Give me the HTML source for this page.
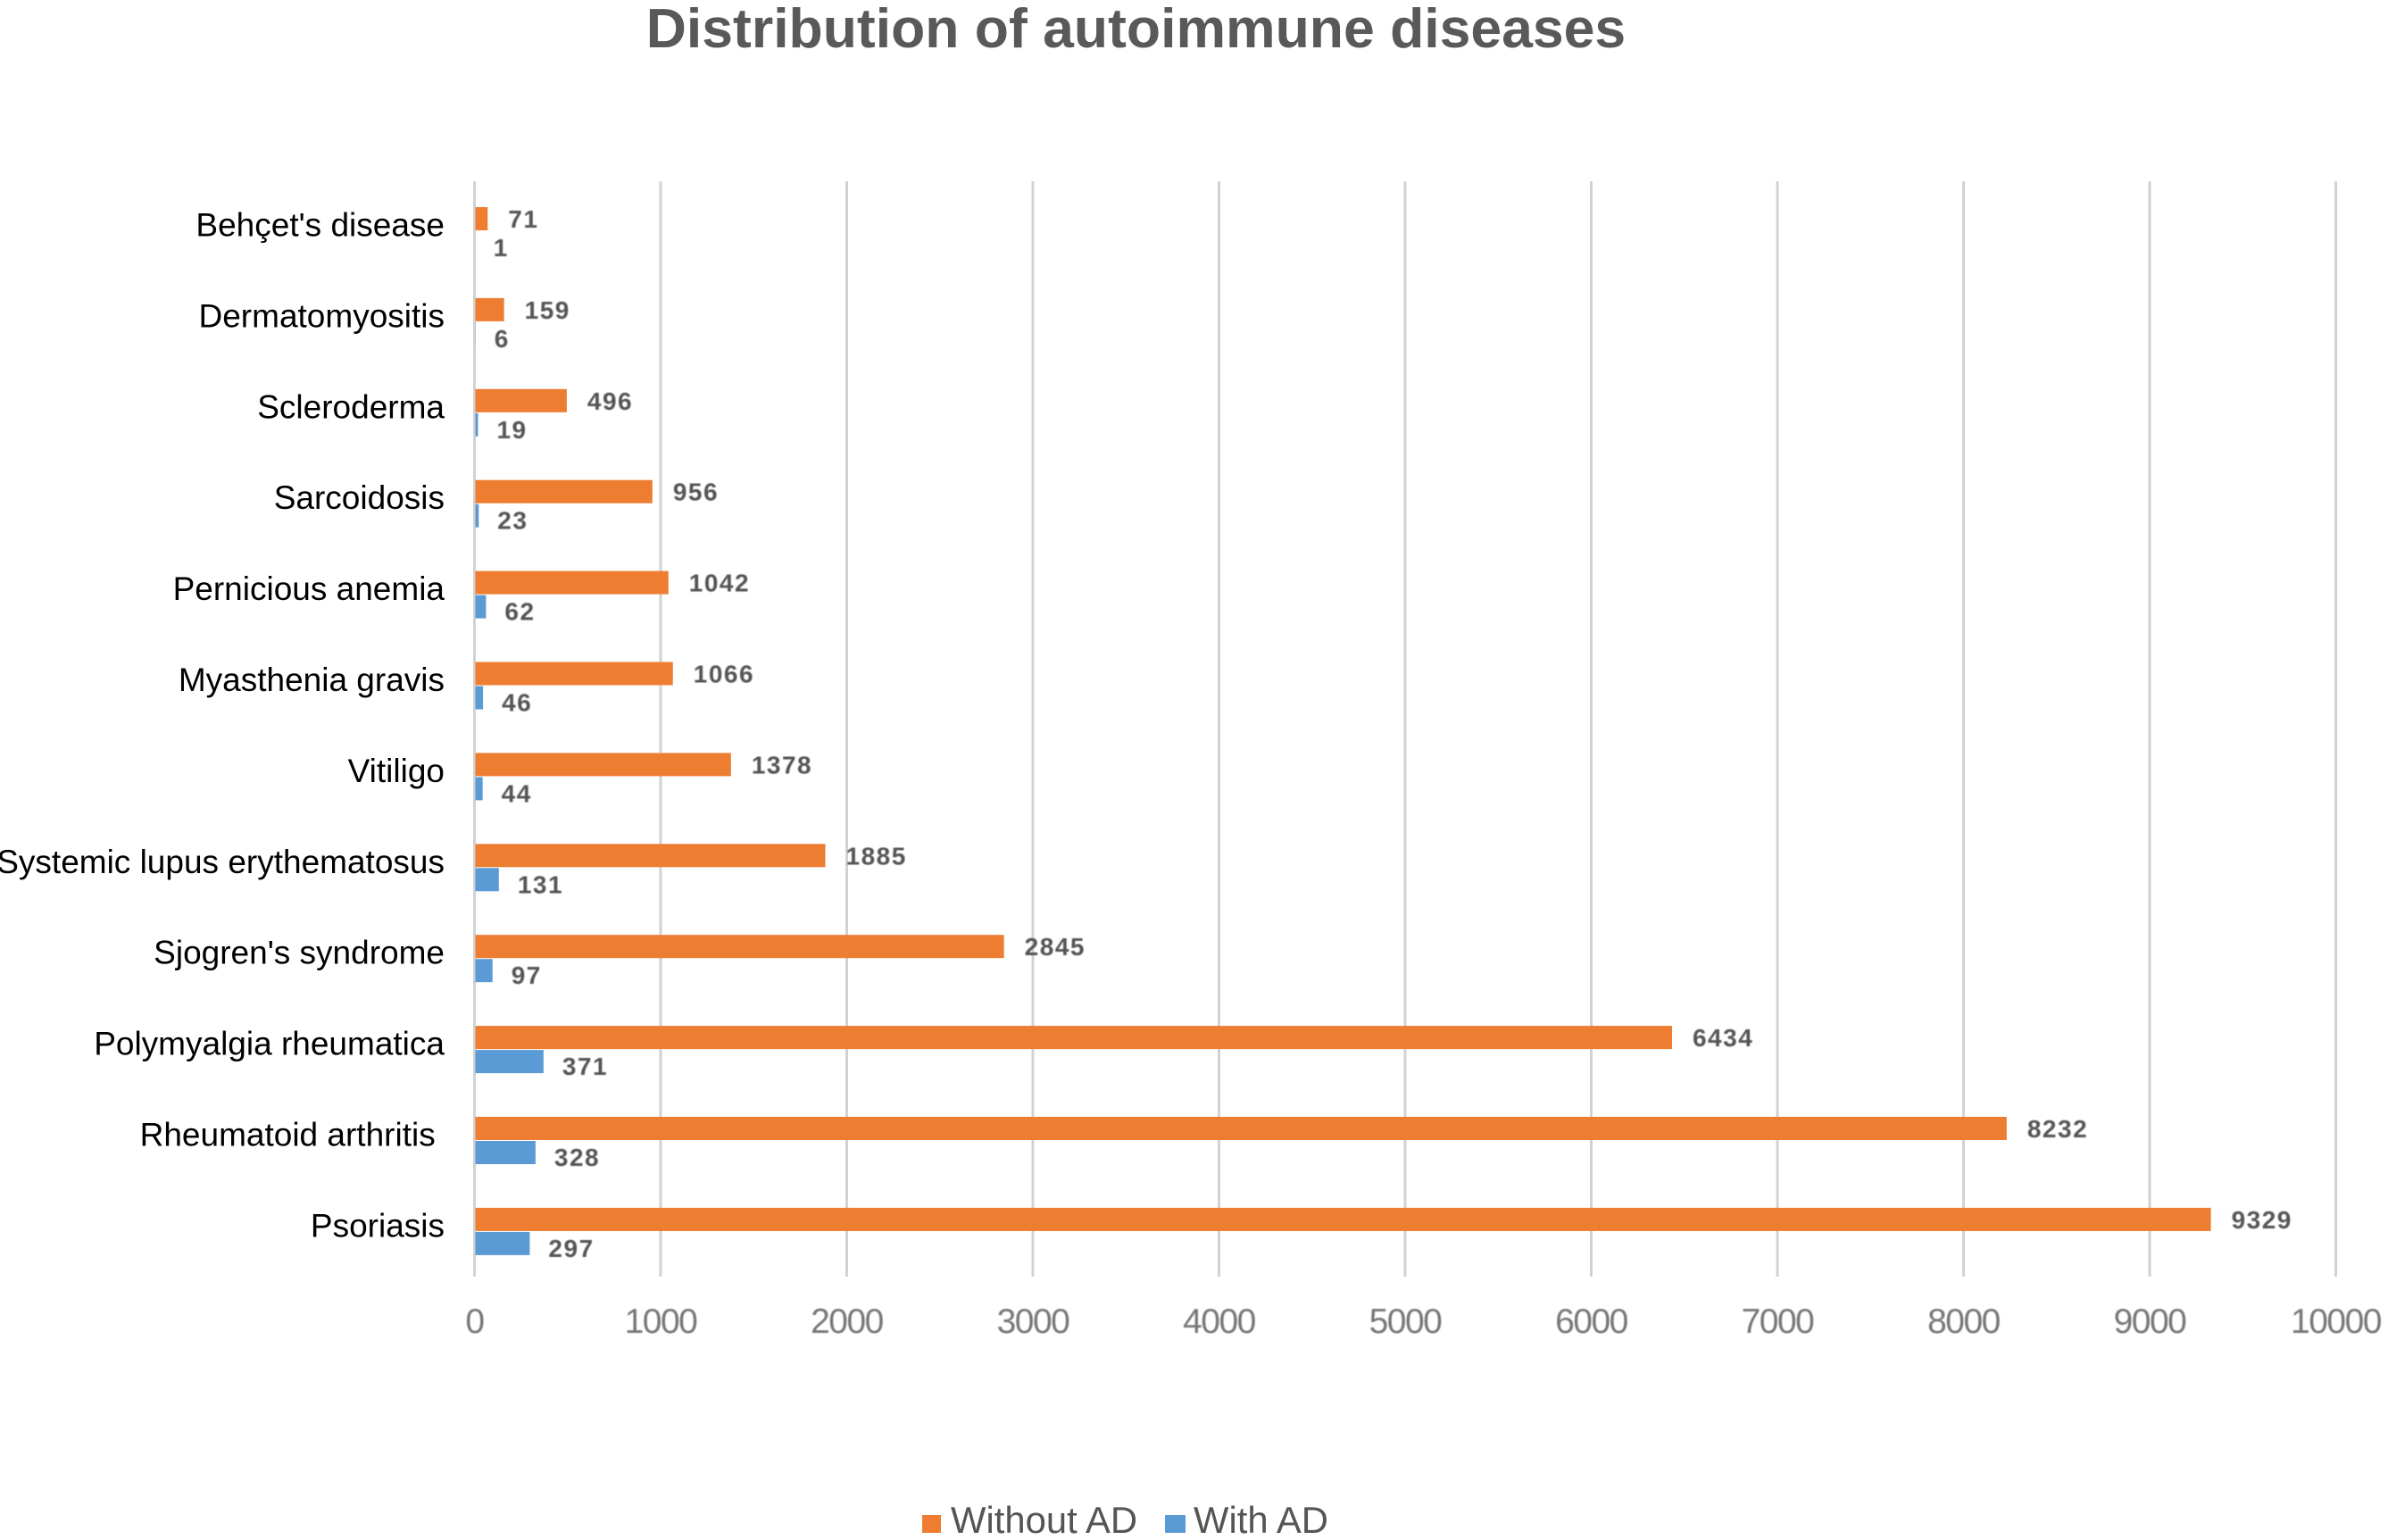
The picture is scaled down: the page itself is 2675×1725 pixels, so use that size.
<!DOCTYPE html>
<html lang="en">
<head>
<meta charset="utf-8">
<title>Distribution of autoimmune diseases</title>
<style>
  html, body { margin: 0; padding: 0; background: #fff; width: 2675px; height: 1725px; overflow: hidden; }
  svg { display: block; font-family: "Liberation Sans", Arial, sans-serif; }
  .cat { font-size: 37px; fill: #000; text-anchor: end; white-space: pre; }
  .val { font-size: 28px; font-weight: bold; fill: #555; letter-spacing: 1.5px; filter: blur(0.5px); }
  .tick { font-size: 39px; fill: #777; text-anchor: middle; letter-spacing: -1.5px; filter: blur(0.6px); }
  .grid { stroke: #d2d2d2; stroke-width: 3; }
</style>
</head>
<body>
<svg id="chart" xmlns="http://www.w3.org/2000/svg" width="2675" height="1725" viewBox="0 0 2675 1725">
  <rect x="0" y="0" width="2675" height="1725" fill="#ffffff"/>
  <text x="1272.5" y="53" text-anchor="middle" font-size="62.5" font-weight="bold" fill="#595959">Distribution of autoimmune diseases</text>
  <g id="grid-layer"></g>
  <g id="bar-layer"></g>
  <g id="label-layer"></g>
  <g id="cat-layer"></g>
  <g id="tick-layer"></g>
  <g>
    <g>
      <rect x="1033" y="1697" width="21" height="20" fill="#ed7d31"/>
      <text x="1065" y="1717" font-size="41.8" fill="#555555">Without AD</text>
    </g>
    <g>
      <rect x="1305" y="1697" width="23" height="20" fill="#5b9bd5"/>
      <text x="1337" y="1717" font-size="41.8" fill="#555555">With AD</text>
    </g>
  </g>
</svg>
<script>
const categories = ["Behçet's disease", "Dermatomyositis", "Scleroderma", "Sarcoidosis", "Pernicious anemia", "Myasthenia gravis", "Vitiligo", "Systemic lupus erythematosus", "Sjogren's syndrome", "Polymyalgia rheumatica", "Rheumatoid arthritis ", "Psoriasis"];
const withoutAD = [71, 159, 496, 956, 1042, 1066, 1378, 1885, 2845, 6434, 8232, 9329];
const withAD = [1, 6, 19, 23, 62, 46, 44, 131, 97, 371, 328, 297];
const tickValues = [0, 1000, 2000, 3000, 4000, 5000, 6000, 7000, 8000, 9000, 10000];

const NS = 'http://www.w3.org/2000/svg';
function xScale(v) { return 531.5 + v * 0.2085; }
function bandTop(i) { return 232 + i * 101.9; }
const BAR_H = 26;
const BAR_START = xScale(0) + 1;

function make(tag, attrs, parent, text) {
  const el = document.createElementNS(NS, tag);
  for (const k in attrs) el.setAttribute(k, attrs[k]);
  if (text !== undefined) el.textContent = text;
  parent.appendChild(el);
  return el;
}

const gridLayer = document.getElementById('grid-layer');
const tickLayer = document.getElementById('tick-layer');
const barLayer = document.getElementById('bar-layer');
const labelLayer = document.getElementById('label-layer');
const catLayer = document.getElementById('cat-layer');

tickValues.forEach(function (t) {
  const x = xScale(t);
  const line = make('line', { x1: x, x2: x, y1: 203, y2: 1430, class: 'grid' }, gridLayer);
  
  
  const label = make('text', { x: x, y: 1493, class: 'tick' }, tickLayer, String(t));
  
  
});

categories.forEach(function (name, i) {
  const top = bandTop(i);
  const slug = name.trim().toLowerCase().replace(/[^a-z]+/g, '-');

  const cat = make('text', { x: 498, y: top + 32.5, class: 'cat' }, catLayer, name);
  
  

  const orange = make('rect', { x: BAR_START, y: top, width: Math.max(0, xScale(withoutAD[i]) - BAR_START), height: BAR_H, fill: '#ed7d31' }, barLayer);
  
  

  const blue = make('rect', { x: BAR_START, y: top + BAR_H + 1, width: Math.max(0, xScale(withAD[i]) - BAR_START), height: BAR_H, fill: '#5b9bd5' }, barLayer);
  
  

  const v1 = make('text', { x: xScale(withoutAD[i]) + 23, y: top + 23, class: 'val' }, labelLayer, String(withoutAD[i]));
  
  

  const v2 = make('text', { x: xScale(withAD[i]) + 21, y: top + 55, class: 'val' }, labelLayer, String(withAD[i]));
  
  
});
</script>
</body>
</html>
